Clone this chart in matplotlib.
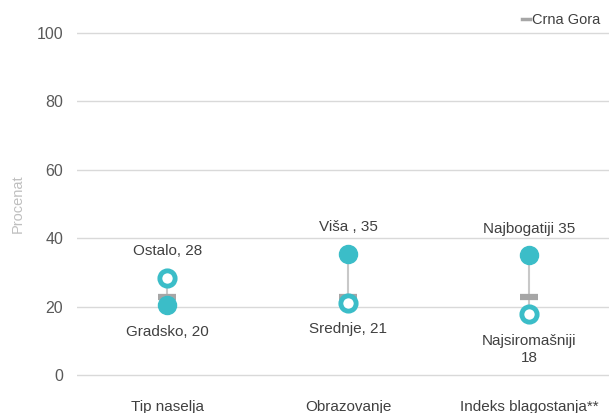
import matplotlib.pyplot as plt
from matplotlib.lines import Line2D

plt.rcParams['font.family'] = ['Liberation Sans', 'DejaVu Sans']

# data
categories = ["Tip naselja", "Obrazovanje", "Indeks blagostanja**"]
filled_values = [20.4, 35.4, 35.1]      # Gradsko, Viša, Najbogatiji
open_values = [28.4, 21.2, 17.7]        # Ostalo, Srednje, Najsiromašniji
filled_labels = ["Gradsko, 20", "Viša , 35", "Najbogatiji 35"]
open_labels = ["Ostalo, 28", "Srednje, 21", "Najsiromašniji\n18"]
national = [22.9, 22.9, 22.9]
yticks = [0, 20, 40, 60, 80, 100]

teal = "#3bbdc8"
text_col = "#404040"

fig = plt.figure(figsize=(6.09, 4.13), dpi=100)
ax = fig.add_axes([77 / 609, 24.3 / 413, 532 / 609, 369.4 / 413])

x = list(range(len(categories)))

for i in x:
    lo = min(filled_values[i], open_values[i])
    hi = max(filled_values[i], open_values[i])
    ax.plot([i, i], [lo, hi], color="#c8c8c8", lw=1.5, zorder=2)

ax.plot(x, national, linestyle="none", marker="_", markersize=13,
        markeredgewidth=4.5, color="#a6a6a6", zorder=3)
ax.plot(x, filled_values, linestyle="none", marker="o", markersize=13,
        color=teal, markeredgecolor=teal, zorder=4)
ax.plot(x, open_values, linestyle="none", marker="o", markersize=11,
        markerfacecolor="white", markeredgecolor=teal, markeredgewidth=3.5,
        zorder=4)

# labels above the higher point, below the lower one
for i in x:
    pairs = [(filled_values[i], filled_labels[i]), (open_values[i], open_labels[i])]
    pairs.sort(key=lambda p: p[0])
    (lo_v, lo_t), (hi_v, hi_t) = pairs
    ax.annotate(hi_t, (i, hi_v), xytext=(0, 14), textcoords="offset points",
                ha="center", va="bottom", fontsize=11, color=text_col)
    ax.annotate(lo_t, (i, lo_v), xytext=(0, -14), textcoords="offset points",
                ha="center", va="top", fontsize=11, color=text_col,
                linespacing=1.25)

ax.set_xlim(-0.5, 2.44)
ax.set_ylim(-4, 104)
ax.set_yticks(yticks)
ax.set_xticks(x)
ax.set_xticklabels(categories)
ax.tick_params(axis="y", length=0, pad=10, labelsize=11.5, labelcolor="#595959")
ax.tick_params(axis="x", length=0, pad=8, labelsize=11, labelcolor=text_col)
ax.grid(axis="y", color="#d9d9d9", lw=1)
ax.set_axisbelow(True)
for s in ax.spines.values():
    s.set_visible(False)

ax.set_ylabel("Procenat", color="#bfbfbf", fontsize=10.5)
ax.yaxis.set_label_coords(-0.098, 0.5)

handle = Line2D([], [], color="#a6a6a6", lw=2.5)
leg = fig.legend(handles=[handle], labels=["Crna Gora"], loc="upper right",
                 bbox_to_anchor=(1.008, 1.0), frameon=False, handlelength=0.5,
                 handletextpad=0.2, fontsize=10.5)
for t in leg.get_texts():
    t.set_color(text_col)

fig.savefig("out.png", dpi=100)
